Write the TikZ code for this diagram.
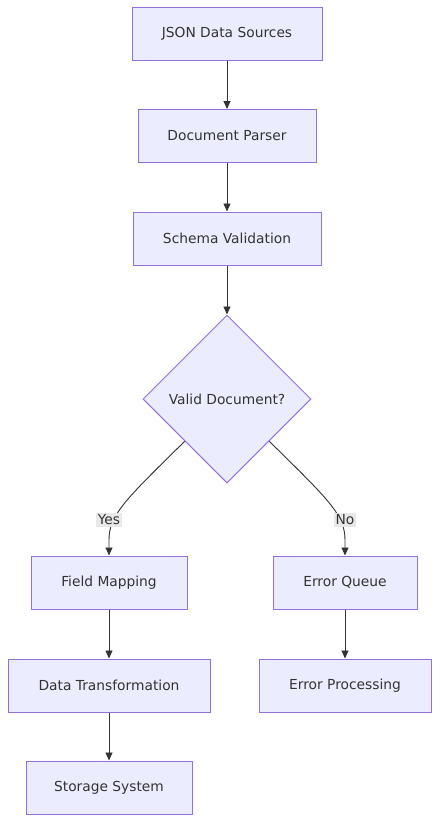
\documentclass[tikz,border=0pt]{standalone}
\usepackage{fontspec}
\setmainfont{DejaVu Sans}
\usetikzlibrary{shapes.geometric,arrows.meta,calc}
\definecolor{mfill}{HTML}{ECECFF}
\definecolor{mstroke}{HTML}{9370DB}
\definecolor{mtext}{HTML}{333333}
\definecolor{mline}{HTML}{333333}
\definecolor{mlabel}{HTML}{E8E8E8}
\tikzset{
  box/.style={draw=mstroke, fill=mfill, line width=1pt, text=mtext, inner sep=0pt, minimum height=53pt, font=\fontsize{13.8}{16}\selectfont},
  decide/.style={diamond, draw=mstroke, fill=mfill, line width=1pt, text=mtext, inner sep=0pt, minimum width=168pt, minimum height=168pt, font=\fontsize{13.8}{16}\selectfont},
  flow/.style={draw=mline, line width=0.9pt, -{Triangle[length=8pt,width=7pt]}},
  elabel/.style={fill=mlabel, text=mtext, inner sep=2pt, font=\fontsize{13.8}{16}\selectfont}
}
\begin{document}
\begin{tikzpicture}[x=1pt,y=1pt]
\useasboundingbox[fill=white] (0,0) rectangle (447,-836);
\node[box, minimum width=190pt] (src) at (227,-34) {JSON Data Sources};
\node[box, minimum width=178pt] (parse) at (227,-136) {Document Parser};
\node[box, minimum width=188pt] (schema) at (227,-238.5) {Schema Validation};
\node[decide] (valid) at (227,-399) {Valid Document?};
\node[box, minimum width=156pt] (map) at (109,-582.5) {Field Mapping};
\node[box, minimum width=144pt] (queue) at (345,-582.5) {Error Queue};
\node[box, minimum width=202pt] (trans) at (109,-685.5) {Data Transformation};
\node[box, minimum width=172pt] (proc) at (345,-685.5) {Error Processing};
\node[box, minimum width=166pt] (store) at (109,-787.5) {Storage System};
\draw[flow] (src) -- (parse);
\draw[flow] (parse) -- (schema);
\draw[flow] (schema) -- (valid);
\coordinate (yesstart) at ($(valid.west)!0.5!(valid.south)$);
\coordinate (nostart) at ($(valid.east)!0.5!(valid.south)$);
\draw[flow] (yesstart) .. controls (125,-500) and (109,-515) .. (109,-540) -- (map.north);
\draw[flow] (nostart) .. controls (329,-500) and (345,-515) .. (345,-540) -- (queue.north);
\node[elabel] (yes) at (109,-520) {Yes};
\node[elabel] (no) at (345,-520) {No};
\draw[flow] (map) -- (trans);
\draw[flow] (trans) -- (store);
\draw[flow] (queue) -- (proc);
\end{tikzpicture}
\end{document}
